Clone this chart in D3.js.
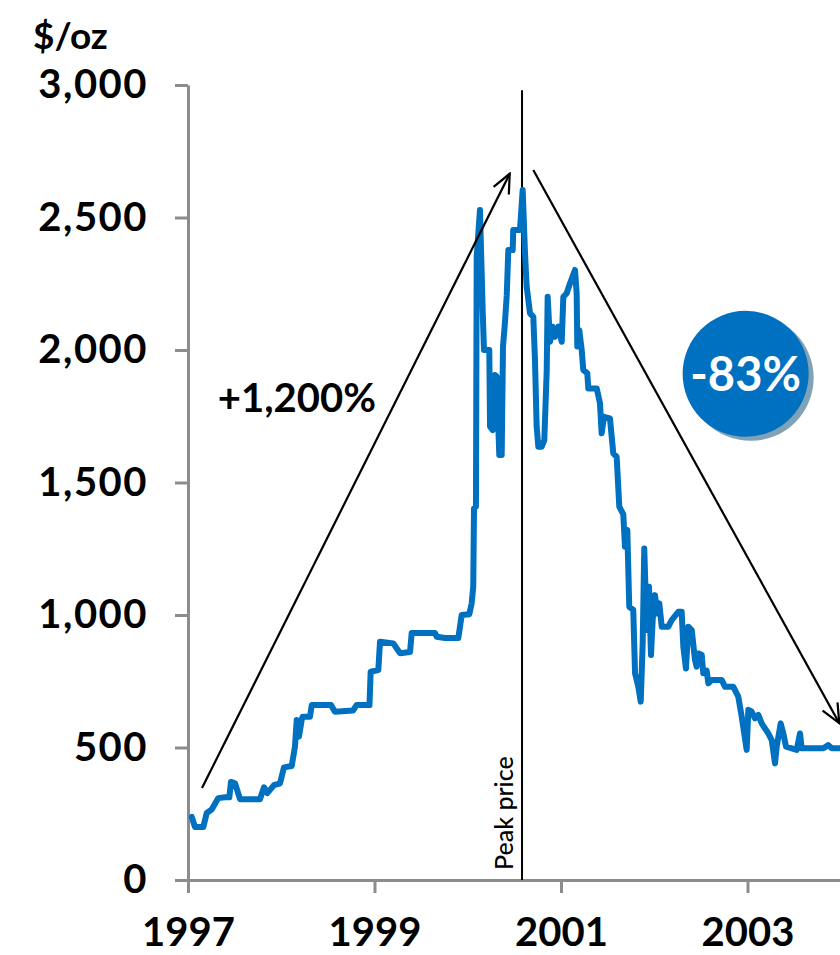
<!DOCTYPE html>
<html>
<head>
<meta charset="utf-8">
<script src="https://cdn.jsdelivr.net/npm/d3@7/dist/d3.min.js"></script>
<style>
  html, body { margin: 0; padding: 0; background: #fff; }
  svg { display: block; }
  svg text { font-family: Lato, "Open Sans", sans-serif; }
</style>
</head>
<body>
<svg id="chart" width="840" height="955"></svg>
<script>
// Price history, $/oz, sampled at decimal-year positions
const years = [
  1997.040, 1997.075, 1997.110, 1997.164, 1997.201, 1997.254, 1997.325, 1997.397,
  1997.443, 1997.461, 1997.504, 1997.558, 1997.772, 1997.815, 1997.850, 1997.922,
  1997.987, 1998.029, 1998.112, 1998.147, 1998.166, 1998.190, 1998.219, 1998.230,
  1998.308, 1998.327, 1998.534, 1998.576, 1998.769, 1998.809, 1998.946, 1998.959,
  1999.041, 1999.059, 1999.202, 1999.273, 1999.381, 1999.399, 1999.649, 1999.667,
  1999.756, 1999.899, 1999.935, 2000.017, 2000.042, 2000.059, 2000.067, 2000.088,
  2000.096, 2000.131, 2000.160, 2000.174, 2000.231, 2000.239, 2000.268, 2000.292,
  2000.310, 2000.338, 2000.364, 2000.378, 2000.399, 2000.418, 2000.435, 2000.482,
  2000.488, 2000.560, 2000.589, 2000.614, 2000.632, 2000.668, 2000.703, 2000.721,
  2000.739, 2000.757, 2000.793, 2000.821, 2000.847, 2000.857, 2000.882, 2000.911,
  2000.936, 2000.971, 2001.008, 2001.025, 2001.061, 2001.097, 2001.150, 2001.168,
  2001.175, 2001.196, 2001.222, 2001.239, 2001.282, 2001.293, 2001.383, 2001.418,
  2001.436, 2001.461, 2001.525, 2001.561, 2001.597, 2001.625, 2001.668, 2001.686,
  2001.711, 2001.732, 2001.775, 2001.794, 2001.829, 2001.855, 2001.876, 2001.893,
  2001.919, 2001.944, 2001.965, 2001.983, 2002.008, 2002.033, 2002.054, 2002.080,
  2002.151, 2002.187, 2002.258, 2002.294, 2002.312, 2002.340, 2002.365, 2002.402,
  2002.437, 2002.455, 2002.472, 2002.509, 2002.526, 2002.562, 2002.580, 2002.616,
  2002.723, 2002.759, 2002.848, 2002.901, 2002.938, 2002.991, 2003.009, 2003.045,
  2003.080, 2003.116, 2003.152, 2003.223, 2003.260, 2003.295, 2003.313, 2003.356,
  2003.384, 2003.413, 2003.474, 2003.528, 2003.563, 2003.581, 2003.813, 2003.867,
  2003.903, 2003.992, 2004.100
];
const prices = [
   238,  200,  200,  200,  253,  266,  309,  312,
   312,  370,  365,  305,  305,  350,  328,  358,
   365,  425,  430,  503,  604,  541,  604,  616,
   616,  660,  660,  635,  640,  660,  660,  786,
   792,  899,  893,  856,  860,  932,  932,  918,
   913,  913, 1000, 1003, 1044, 1107, 1402, 1409,
  2352, 2528, 2151, 2000, 2000, 1711, 1698, 1906,
  1900, 1604, 1604, 2013, 2104, 2205, 2377, 2377,
  2453, 2453, 2604, 2365, 2239, 2138, 2125, 1962,
  1711, 1635, 1635, 1660, 1925, 2201, 2031, 2088,
  2050, 2088, 2031, 2201, 2214, 2252, 2302, 2214,
  2013, 2075, 2000, 1925, 1912, 1855, 1855, 1799,
  1686, 1748, 1742, 1610, 1597, 1409, 1380, 1258,
  1321, 1031, 1019,  780,  729,  673,  893, 1251,
   943, 1107,  849,  981, 1075, 1006, 1044,  956,
   956,  981, 1012, 1012,  880,  798,  956,  943,
   830,  805,  855,  850,  780,  790,  742,  755,
   755,  729,  729,  692,  616,  491,  642,  635,
   610,  623,  591,  553,  528,  440,  503,  591,
   553,  503,  497,  491,  553,  497,  497,  509,
   497,  497,  497
];

const yTicks = [0, 500, 1000, 1500, 2000, 2500, 3000];
const xTicks = [1997, 1999, 2001, 2003];

const unitLabel = "$/oz";
const peakLabel = "Peak price";
const riseLabel = "+1,200%";
const fallLabel = "-83%";

// Peak marker and trend arrows in data coordinates [year, $/oz]
const peakYear = 2000.582;
const peakLineTop = 2980;
const riseArrow = [[1997.150, 347], [2000.450, 2665]];
const fallArrow = [[2000.703, 2679], [2003.984, 592]];
const fallBadge = [2002.980, 1910];
const riseLabelPos = [1997.320, 1765];

const FONT = "Lato, 'Open Sans', sans-serif";

const svg = d3.select("#chart");

const x = d3.scaleLinear().domain([1997, 2005]).range([188, 188 + 8 * 93.25]);
const y = d3.scaleLinear().domain([0, 3000]).range([880, 85]);

const axisColor = "#8c8c8c";
const blue = "#0070c0";

// Arrowhead
svg.append("defs").append("marker")
  .attr("id", "arrow")
  .attr("markerUnits", "userSpaceOnUse")
  .attr("viewBox", "-22 -11 24 22")
  .attr("refX", 0).attr("refY", 0)
  .attr("markerWidth", 24).attr("markerHeight", 22)
  .attr("orient", "auto")
  .append("path")
  .attr("d", "M-19,-8.5L0,0L-19,8.5")
  .attr("fill", "none")
  .attr("stroke", "#000")
  .attr("stroke-width", 2.2);

// Y axis
const yAxis = svg.append("g")
  .attr("transform", `translate(${x(1997)},0)`)
  .call(d3.axisLeft(y).tickValues(yTicks).tickFormat(d3.format(","))
    .tickSize(13).tickSizeOuter(0).tickPadding(27));

// X axis
const xAxis = svg.append("g")
  .attr("transform", `translate(0,${y(0)})`)
  .call(d3.axisBottom(x).tickValues(xTicks).tickFormat(d3.format("d"))
    .tickSize(13).tickSizeOuter(0).tickPadding(24));

[yAxis, xAxis].forEach(g => {
  g.attr("font-family", FONT).attr("font-size", 40).attr("font-weight", 700);
  g.selectAll("path.domain, .tick line")
    .attr("stroke", axisColor).attr("stroke-width", 3);
  g.selectAll(".tick text").attr("fill", "#000");
});
yAxis.selectAll(".tick text").attr("letter-spacing", 1.5);
xAxis.selectAll(".tick text").attr("dy", "0.72em");

// Unit label
svg.append("text")
  .attr("x", 33).attr("y", 49)
  .attr("font-family", FONT).attr("font-size", 37).attr("font-weight", 700)
  .text(unitLabel);

// Peak marker line
svg.append("line")
  .attr("x1", x(peakYear)).attr("x2", x(peakYear))
  .attr("y1", y(peakLineTop)).attr("y2", y(0))
  .attr("stroke", "#000").attr("stroke-width", 2);

svg.append("text")
  .attr("transform", `translate(${x(peakYear) - 9},${y(0) - 10}) rotate(-90)`)
  .attr("font-family", FONT).attr("font-size", 25).attr("font-weight", 500)
  .text(peakLabel);

// Price line
const line = d3.line().x((d, i) => x(years[i])).y(d => y(d)).curve(d3.curveLinear);
svg.append("path")
  .datum(prices)
  .attr("d", line)
  .attr("fill", "none")
  .attr("stroke", blue)
  .attr("stroke-width", 6)
  .attr("stroke-linejoin", "round")
  .attr("stroke-linecap", "round");

// Trend arrows
[riseArrow, fallArrow].forEach(a => {
  svg.append("line")
    .attr("x1", x(a[0][0])).attr("y1", y(a[0][1]))
    .attr("x2", x(a[1][0])).attr("y2", y(a[1][1]))
    .attr("stroke", "#000").attr("stroke-width", 2.2)
    .attr("marker-end", "url(#arrow)");
});

svg.append("text")
  .attr("x", x(riseLabelPos[0])).attr("y", y(riseLabelPos[1]))
  .attr("font-family", FONT).attr("font-size", 40).attr("font-weight", 700)
  .text(riseLabel);

// Decline badge
const bx = x(fallBadge[0]), by = y(fallBadge[1]);
svg.append("circle").attr("cx", bx + 5).attr("cy", by + 4).attr("r", 63).attr("fill", "#7fa2b6");
svg.append("circle").attr("cx", bx).attr("cy", by).attr("r", 63).attr("fill", blue);
svg.append("text")
  .attr("x", bx).attr("y", by + 17)
  .attr("text-anchor", "middle")
  .attr("fill", "#fff")
  .attr("font-family", FONT).attr("font-size", 47).attr("font-weight", 700)
  .text(fallLabel);
</script>
</body>
</html>
